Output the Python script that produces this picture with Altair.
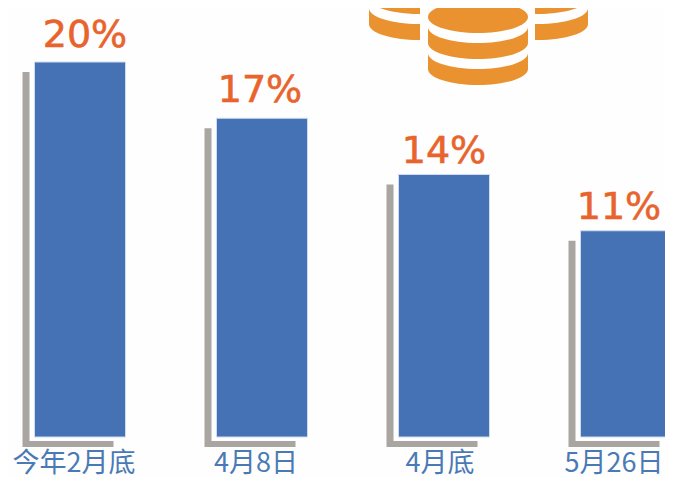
import altair as alt
import pandas as pd

cats = ["今年2月底", "4月8日", "4月底", "5月26日"]
vals = [20, 17, 14, 11]
labels = ["20%", "17%", "14%", "11%"]
df = pd.DataFrame({"c": cats, "v": vals, "l": labels})

BG = "#fefefe"
W, H = 657, 469
xs = alt.Scale(type="band", domain=cats, range=[-19, 709], paddingInner=0.5, paddingOuter=0.25)
ys = alt.Scale(domain=[0, 20], range=[429, 54], nice=False)
X = alt.X("c:N", scale=xs, axis=None, sort=cats)
Y = alt.Y("v:Q", scale=ys, axis=None)


def bar(color, dx, dy, **kw):
    return alt.Chart(df).mark_bar(
        color=color, xOffset=dx, x2Offset=dx, yOffset=dy, y2Offset=dy, **kw
    ).encode(x=X, y=Y, y2=alt.datum(0))


shadow = bar("#a9a5a1", -12, 10)
gap = bar(BG, -5, 4)
bars = bar("#4472b4", 0, 0, stroke="#cfdcef", strokeWidth=1)

label_shift = {"20%": (5, -15), "17%": (-2, -16), "14%": (0, -12), "11%": (-7, -12)}
value_layers = [
    alt.Chart(df).transform_filter(alt.datum.l == k).mark_text(
        color="#e8642c", font="DejaVu Sans", fontSize=38, baseline="alphabetic",
        dx=s[0], dy=s[1], stroke="#e8642c", strokeWidth=0.6
    ).encode(x=X, y=Y, text="l:N")
    for k, s in label_shift.items()
]
cat_shift = {"今年2月底": -6, "4月8日": -6, "4月底": -4, "5月26日": -12}
cat_layers = [
    alt.Chart(df).transform_filter(alt.datum.c == k).mark_text(
        color="#4a7ab5", font="Noto Sans CJK SC", fontSize=27, baseline="middle", dx=s
    ).encode(x=X, y=alt.value(456), text="c:N")
    for k, s in cat_shift.items()
]

# coin icon, in the picture's own pixel scale
ix = alt.Scale(domain=[0, W], range=[0, W], nice=False, zero=False)
iy = alt.Scale(domain=[H, 0], range=[H, 0], nice=False, zero=False)
CRESCENT = "M-1,0 A1,0.32 0 0 0 1,0 L1,0.32 A1,0.32 0 0 1 -1,0.32 Z"
DISK = "M-1,0 A1,0.32 0 0 1 1,0 A1,0.32 0 0 1 -1,0 Z"
ORANGE = "#ea922f"


def coins(xv, yv, shape):
    d = pd.DataFrame({"x": xv, "y": yv})
    return alt.Chart(d).mark_point(
        shape=shape, filled=True, color=ORANGE, opacity=1, size=10000, strokeWidth=0
    ).encode(x=alt.X("x:Q", scale=ix, axis=None), y=alt.Y("y:Q", scale=iy, axis=None))


side = coins([411, 411, 530, 530], [0, -26, 0, -26], CRESCENT)
halo = alt.Chart(pd.DataFrame({"x": [412], "x2": [527], "y": [-10], "y2": [85]})).mark_rect(color=BG).encode(
    x=alt.X("x:Q", scale=ix, axis=None), x2="x2:Q",
    y=alt.Y("y:Q", scale=iy, axis=None), y2="y2:Q")
center = coins([470, 470], [45, 19], CRESCENT)
top = coins([470], [9], DISK)

chart = alt.layer(
    shadow, gap, bars, *value_layers, *cat_layers, side, halo, center, top
).resolve_scale(x="independent", y="independent").properties(
    width=W, height=H, background=BG, padding=0,
    autosize=alt.AutoSizeParams(type="none"),
).configure_view(stroke=None)
chart.save("out.html", embed_options={"renderer": "svg", "actions": False})
